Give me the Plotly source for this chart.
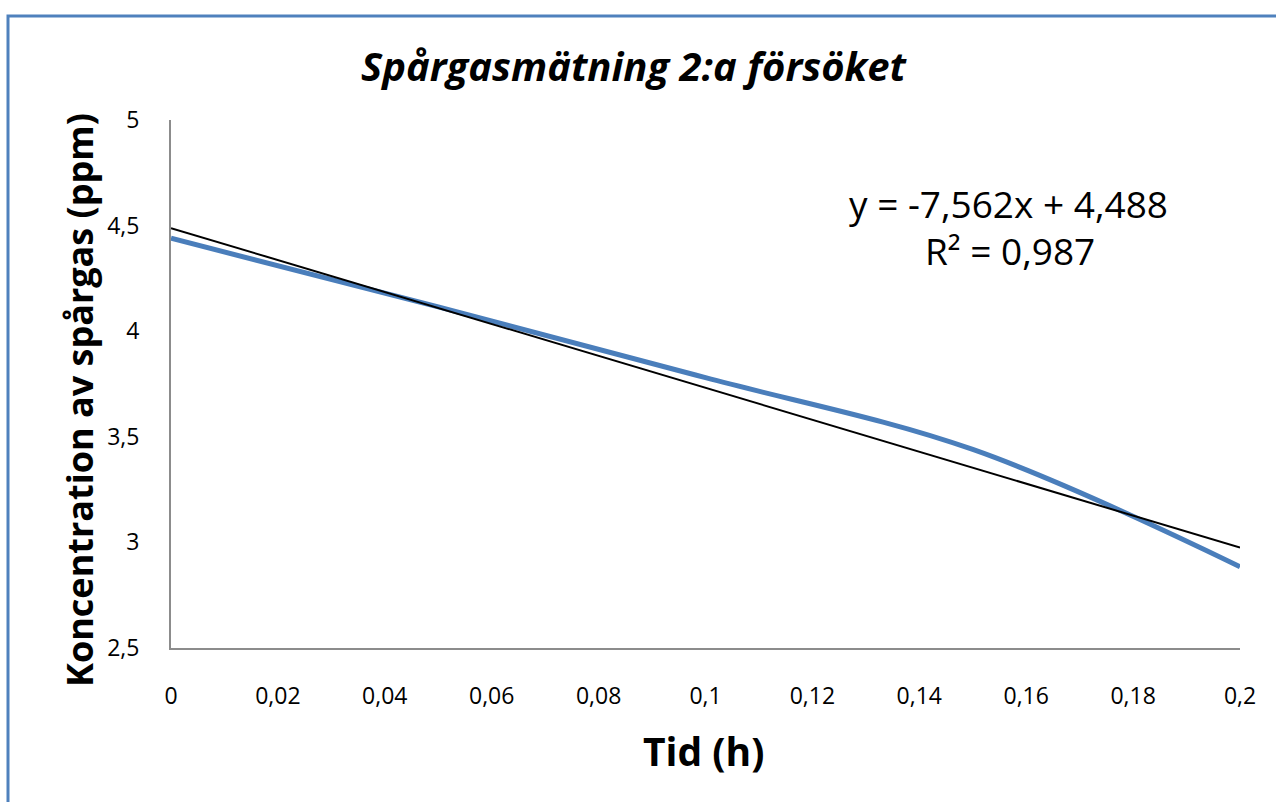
import plotly.graph_objects as go

# Measured tracer-gas concentration over time
tid_h = [0.0, 0.05, 0.10, 0.15, 0.20]
koncentration_ppm = [4.44, 4.115, 3.78, 3.44, 2.885]

# Linear trendline coefficients (as shown in the equation label)
slope = -7.562
intercept = 4.488
r_squared = 0.987

# Axis ticks
x_tickvals = [0, 0.02, 0.04, 0.06, 0.08, 0.10, 0.12, 0.14, 0.16, 0.18, 0.20]
x_ticktext = ["0", "0,02", "0,04", "0,06", "0,08", "0,1", "0,12", "0,14", "0,16", "0,18", "0,2"]
y_tickvals = [2.5, 3.0, 3.5, 4.0, 4.5, 5.0]
y_ticktext = ["2,5", "3", "3,5", "4", "4,5", "5"]

trend_x = [x_tickvals[0], x_tickvals[-1]]
trend_y = [slope * x + intercept for x in trend_x]

FONT = "Open Sans"

fig = go.Figure()
fig.add_trace(go.Scatter(
    x=tid_h, y=koncentration_ppm, mode="lines",
    line=dict(color="#4a7ebb", width=5, shape="spline", smoothing=1.0),
    showlegend=False, hoverinfo="x+y",
))
fig.add_trace(go.Scatter(
    x=trend_x, y=trend_y, mode="lines",
    line=dict(color="#000000", width=2),
    showlegend=False, hoverinfo="skip",
))

L, R, T, B = 171, 36, 120, 154
W, H = 1276, 802
pw, ph = W - L - R, H - T - B

def px_x(px):
    return (px - L) / pw

def px_y(py):
    return (H - B - py) / ph

fig.update_layout(
    width=W, height=H,
    margin=dict(l=L, r=R, t=T, b=B, pad=0),
    paper_bgcolor="white", plot_bgcolor="white",
    font=dict(family=FONT, color="#000000", size=23),
    separators=", ",
    xaxis=dict(
        range=[0, 0.2], tickvals=x_tickvals, ticktext=x_ticktext,
        showgrid=False, zeroline=False, showline=True, linecolor="#8c8c8c", linewidth=2,
        ticks="outside", ticklen=0, tickcolor="rgba(0,0,0,0)",
        tickfont=dict(size=23, family=FONT, color="#000000"), ticklabelstandoff=26,
    ),
    yaxis=dict(
        range=[2.5, 5], tickvals=y_tickvals, ticktext=y_ticktext,
        showgrid=False, zeroline=False, showline=True, linecolor="#8c8c8c", linewidth=2,
        ticks="outside", ticklen=0, tickcolor="rgba(0,0,0,0)",
        tickfont=dict(size=23, family=FONT, color="#000000"), ticklabelstandoff=25,
    ),
    shapes=[dict(
        type="rect", xref="paper", yref="paper",
        x0=px_x(8), y0=px_y(900), x1=px_x(1400), y1=px_y(16),
        line=dict(color="#4f81bd", width=3), fillcolor="rgba(0,0,0,0)", layer="below",
    )],
    annotations=[
        dict(text="<b><i>Spårgasmätning 2:a försöket</i></b>", xref="paper", yref="paper",
             x=px_x(634), y=px_y(66), showarrow=False, xanchor="center", yanchor="middle",
             font=dict(size=40, family=FONT)),
        dict(text="<b>Koncentration av spårgas (ppm)</b>", xref="paper", yref="paper",
             x=px_x(79), y=px_y(400), showarrow=False, textangle=-90,
             xanchor="center", yanchor="middle", font=dict(size=36, family=FONT)),
        dict(text="<b>Tid (h)</b>", xref="paper", yref="paper",
             x=px_x(703), y=px_y(750), showarrow=False, xanchor="center", yanchor="middle",
             font=dict(size=39, family=FONT)),
        dict(text=f"y = {slope:.3f}x + {intercept:.3f}".replace(".", ","), xref="paper", yref="paper",
             x=px_x(1008), y=px_y(203), showarrow=False, xanchor="center", yanchor="middle",
             font=dict(size=37, family=FONT)),
        dict(text=f"R² = {r_squared:.3f}".replace(".", ","), xref="paper", yref="paper",
             x=px_x(1010), y=px_y(250), showarrow=False, xanchor="center", yanchor="middle",
             font=dict(size=37, family=FONT)),
    ],
)

fig.write_html("out.html")
